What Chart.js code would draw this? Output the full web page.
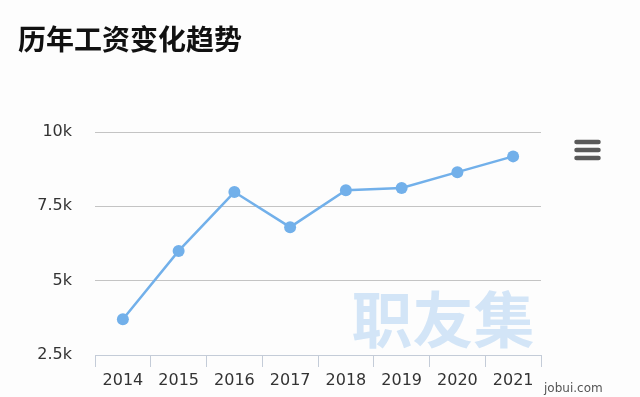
<!DOCTYPE html>
<html>
<head>
<meta charset="utf-8">
<script src="https://cdn.jsdelivr.net/npm/chart.js@4"></script>
<style>
  html,body{margin:0;padding:0;background:#fdfdfd;}
  #wrap{width:640px;height:397px;}
</style>
</head>
<body>
<div id="wrap"><canvas id="myChart" width="640" height="397"></canvas></div>
<script>
const years=['2014','2015','2016','2017','2018','2019','2020','2021'];
const salary=[3700,6000,7980,6800,8040,8120,8650,9180];
const yTicks=[2500,5000,7500,10000];
const titleText='历年工资变化趋势';
const watermark='职友集';
const siteText='jobui.com';

// watermark, site name and menu icon
const extras={
  id:'extras',
  beforeDatasetsDraw(chart){
    const ctx=chart.ctx;
    ctx.save();
    ctx.font='bold 61px "Noto Sans CJK SC"';
    ctx.fillStyle='rgba(124,181,236,0.32)';
    ctx.textAlign='center';
    ctx.textBaseline='middle';
    ctx.fillText(watermark,443,320);
    ctx.restore();
  },
  afterDraw(chart){
    const ctx=chart.ctx;
    ctx.save();
    ctx.font='12px "DejaVu Sans"';
    ctx.fillStyle='#555';
    ctx.textAlign='left';
    ctx.textBaseline='middle';
    ctx.fillText(siteText,544,389);
    ctx.strokeStyle='#5a5a5a';
    ctx.lineWidth=4.5;
    ctx.lineCap='round';
    [142,150,158].forEach(y=>{
      ctx.beginPath();
      ctx.moveTo(576.5,y);
      ctx.lineTo(598.5,y);
      ctx.stroke();
    });
    ctx.restore();
  }
};

window.addEventListener('load',()=>{
  const ctx=document.getElementById('myChart');
  new Chart(ctx,{
    type:'line',
    data:{
      labels:years,
      datasets:[{
        data:salary,
        borderColor:'#72b0ea',
        backgroundColor:'#72b0ea',
        borderWidth:2.5,
        pointRadius:6,
        pointHoverRadius:6,
        pointBorderWidth:0,
        tension:0
      }]
    },
    options:{
      responsive:false,
      animation:false,
      layout:{padding:{left:18,right:99,top:0,bottom:0}},
      plugins:{
        legend:{display:false},
        tooltip:{enabled:false},
        title:{
          display:true,
          text:titleText,
          align:'start',
          color:'#111',
          font:{family:'"Noto Sans CJK SC"',size:28,weight:'bold',lineHeight:1.2},
          padding:{top:23,bottom:75.4}
        }
      },
      scales:{
        x:{
          offset:true,
          grid:{offset:true,drawOnChartArea:false,drawTicks:true,tickLength:12,color:'#c4ccd8'},
          border:{display:true,color:'#c4ccd8',width:1},
          ticks:{color:'#333',font:{family:'"DejaVu Sans"',size:16},padding:4,maxRotation:0},
          afterFit(scale){scale.height=42;}
        },
        y:{
          min:2500,
          max:10000,
          afterBuildTicks(scale){scale.ticks=yTicks.map(v=>({value:v}));},
          grid:{drawTicks:false,color:'#c4c4c4',lineWidth:1},
          border:{display:false},
          ticks:{
            color:'#333',
            font:{family:'"DejaVu Sans"',size:16},
            padding:23,
            callback:v=>(v/1000)+'k'
          },
          afterFit(scale){scale.width=77;}
        }
      }
    },
    plugins:[extras]
  });
});
</script>
</body>
</html>
